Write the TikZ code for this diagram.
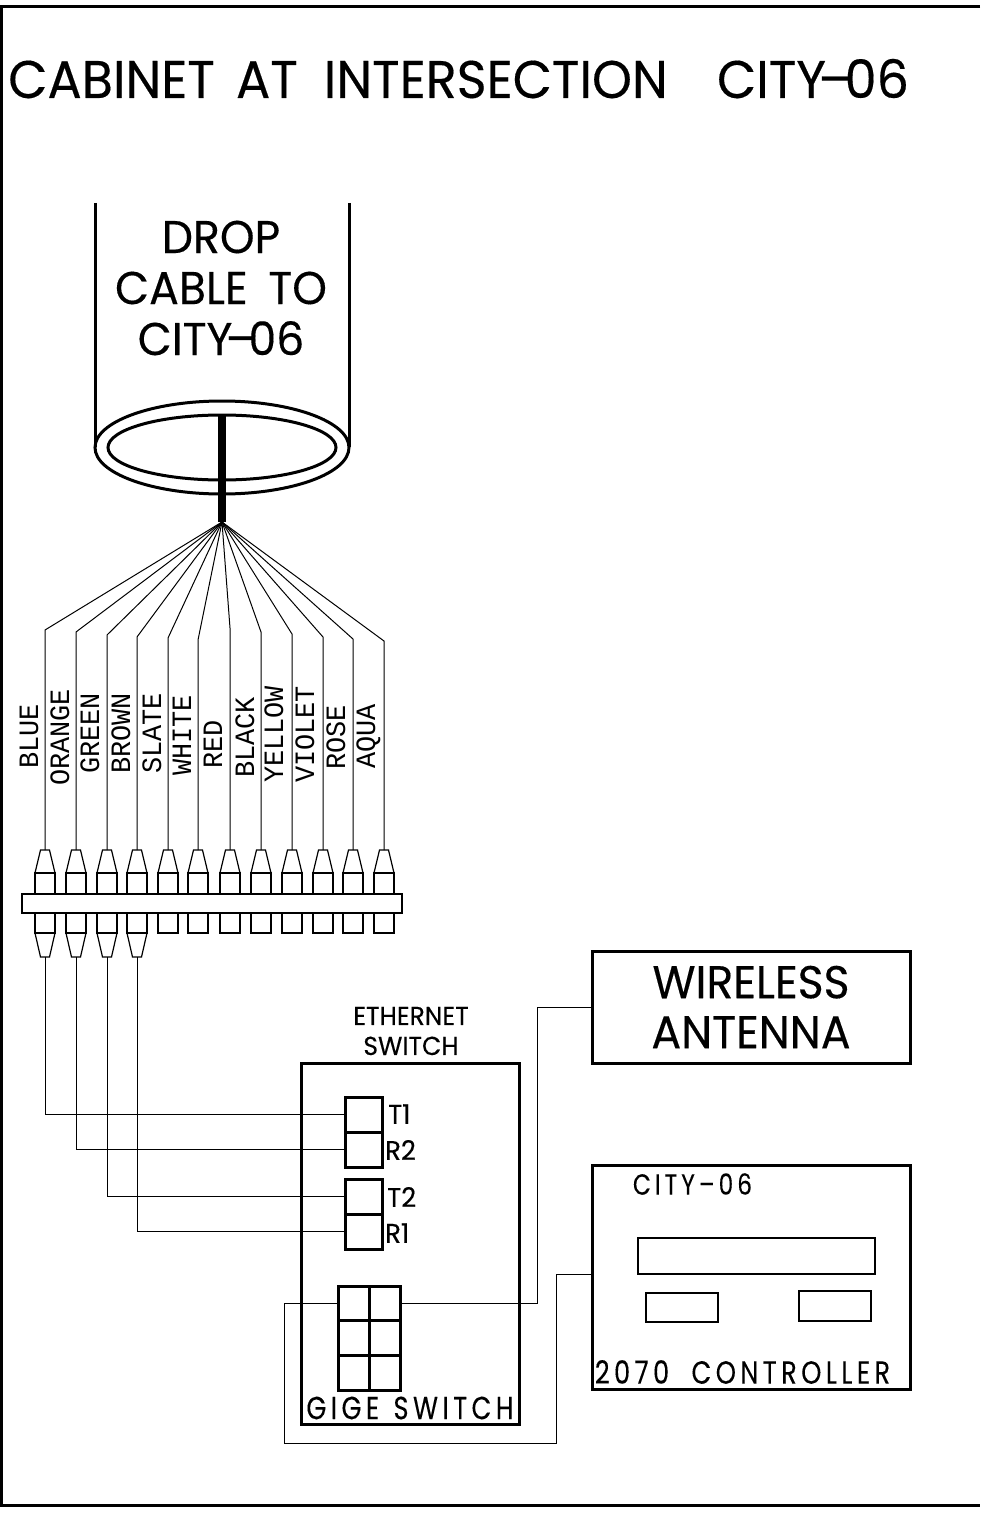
\documentclass[tikz,border=0pt]{standalone}
\usepackage{fontspec}
\setmainfont{Poppins}
\newfontfamily\capfont[FakeStretch=0.96,FakeBold=0.3]{Poppins}
\newfontfamily\spacefont[FakeStretch=0.8,LetterSpace=14,FakeBold=0.15]{Poppins}
\newfontfamily\wirefont[FakeStretch=0.96]{Liberation Mono}
\newcommand{\cityname}{CITY\kern-.15em–\kern-.15em06}
\usetikzlibrary{positioning}
\begin{document}
\begin{tikzpicture}[
    x=1pt, y=-1pt,
    block/.style={
      rectangle,
      draw=black,
      line width=3pt,
      inner sep=0pt,
      outer sep=0pt,
      anchor=north west
    },
    port/.style={
      block,
      anchor=center,
      minimum width=37pt,
      minimum height=35pt
    },
    cell/.style={
      block,
      minimum width=31pt,
      minimum height=34.7pt
    },
    pad/.style={
      rectangle,
      draw=black,
      line width=1.2pt,
      inner sep=0pt,
      outer sep=0pt,
      anchor=north west
    },
    wire/.style={draw=black, line width=1pt},
    colorname/.style={font=\wirefont\fontsize{28}{28}\selectfont, rotate=90, anchor=west, inner sep=0pt, text height=18pt, text depth=0pt},
    portname/.style={font=\capfont\fontsize{27}{27}\selectfont, anchor=west, inner sep=0pt},
    title/.style={font=\capfont\fontsize{53}{53}\selectfont, inner sep=0pt}
]
\useasboundingbox (0,0) rectangle (980,1522);

%% Frame
\draw[line width=3.5pt] (980,6.5) -- (1.5,6.5) -- (1.5,1505.5) -- (980,1505.5);
\node [title, anchor=base west] (heading) at (8,98) {CABINET\hspace{.40em}AT\hspace{.49em}INTERSECTION\hspace{.93em}\cityname};

%% Drop cable
\coordinate (cableleft) at (95,203);
\coordinate (cableright) at (349,203);
\coordinate (fan) at (222,522);
\draw[line width=3pt] (cableleft) -- (95,447);
\draw[line width=3pt] (cableright) -- (349,447);
\draw[line width=3pt] (222,447.5) ellipse [x radius=127, y radius=46.5];
\draw[line width=3pt] (222,447.5) ellipse [x radius=114, y radius=32.5];
\coordinate (core) at (222,415);
\draw[line width=8pt] (core) -- (fan);
\node [title, font=\capfont\fontsize{46}{51}\selectfont, align=center] (drop) at (221,288) {DROP\\CABLE\hspace{.45em}TO\\\cityname};

%% Splice bar
\foreach \i/\xx/\yy/\lab/\lx/\ly in {
  1/45/630/BLUE/29/769, 2/76/632/ORANGE/60/786, 3/107/635/GREEN/90/774, 4/137/637/BROWN/121/774,
  5/168/638/SLATE/152/774, 6/198/640/WHITE/182/776, 7/230/628/RED/213/769, 8/261/632/BLACK/245/778,
  9/292/634/YELLOW/274/783, 10/323/637/VIOLET/305/783, 11/353/639/ROSE/336/770, 12/384/641/AQUA/366/769} {
  \coordinate (elbow\i) at (\xx,\yy);
  \coordinate (tip\i) at (\xx,850);
  \node [colorname] (name\i) at (\lx,\ly) {\lab};
  \draw[wire] (fan) -- (elbow\i) -- (tip\i);
  \draw[line width=1.2pt] (\xx-4.5,850) -- (\xx+4.5,850) -- (\xx+10,873) -- (\xx-10,873) -- cycle;
  \node [pad, minimum width=20pt, minimum height=60pt] (sq\i) at (\xx-10,873) {};
}
\node [pad, fill=white, minimum width=380pt, minimum height=19pt] (bar) at (22,894) {};

\foreach \i/\xx in {1/45, 2/76, 3/107, 4/137} {
  \coordinate (low\i) at (\xx,957);
  \draw[line width=1.2pt] (\xx-10,933) -- (\xx+10,933) -- (\xx+4.5,957) -- (\xx-4.5,957) -- cycle;
}

%% Ethernet switch
\node [block, minimum width=218pt, minimum height=361pt] (ethernet) at (301,1063) {};
\node [font=\capfont\fontsize{26}{30}\selectfont, align=center, inner sep=0pt] (ethlabel) at (411,1031) {ETHERNET\\SWITCH};
\node [port] (tone) at (363.5,1114.5) {};
\node [port] (rtwo) at (363.5,1149.5) {};
\node [port] (ttwo) at (363.5,1196.5) {};
\node [port] (rone) at (363.5,1231.5) {};
\node [portname] (tonelab) at (388,1114) {T1};
\node [portname] (rtwolab) at (385,1150) {R2};
\node [portname] (ttwolab) at (387,1197) {T2};
\node [portname] (ronelab) at (385,1233) {R1};

%% GigE switch
\node [cell] (gaa) at (338,1286) {};
\node [cell] (gab) at (369,1286) {};
\node [cell] (gba) at (338,1320.7) {};
\node [cell] (gbb) at (369,1320.7) {};
\node [cell] (gca) at (338,1355.4) {};
\node [cell] (gcb) at (369,1355.4) {};
\node [font=\spacefont\fontsize{32}{32}\selectfont, inner sep=0pt] (gige) at (410,1408) {GIGE\hspace{.45em}SWITCH};

%% Right side boxes
\node [block, minimum width=318pt, minimum height=112pt, font=\capfont\fontsize{46}{50}\selectfont, align=center] (wireless) at (592,951) {WIRELESS\\ANTENNA};
\node [block, minimum width=318pt, minimum height=224pt] (controller) at (592,1165) {};
\node [font=\spacefont\fontsize{29}{29}\selectfont, inner sep=0pt] (citytag) at (692.5,1184) {CITY–06};
\node [pad, minimum width=237pt, minimum height=36pt] (display) at (638,1238) {};
\node [pad, minimum width=72pt, minimum height=29pt] (keya) at (646,1293) {};
\node [pad, minimum width=72pt, minimum height=30pt] (keyb) at (799,1291) {};
\node [font=\spacefont\fontsize{32}{32}\selectfont, inner sep=0pt] (ctrllabel) at (742.5,1372) {2070\hspace{.7em}CONTROLLER};

%%% Wires
\draw[wire] (low1) |- (tone);
\draw[wire] (low2) |- (rtwo);
\draw[wire] (low3) |- (ttwo);
\draw[wire] (low4) |- (rone);
\draw[wire] (gab.east) -- +(137,0) |- (wireless.west);
\draw[wire] (gaa.west) -- +(-54,0) -- +(-54,140) -- +(218,140) |- ([yshift=3pt]controller.west);
\end{tikzpicture}
\end{document}
